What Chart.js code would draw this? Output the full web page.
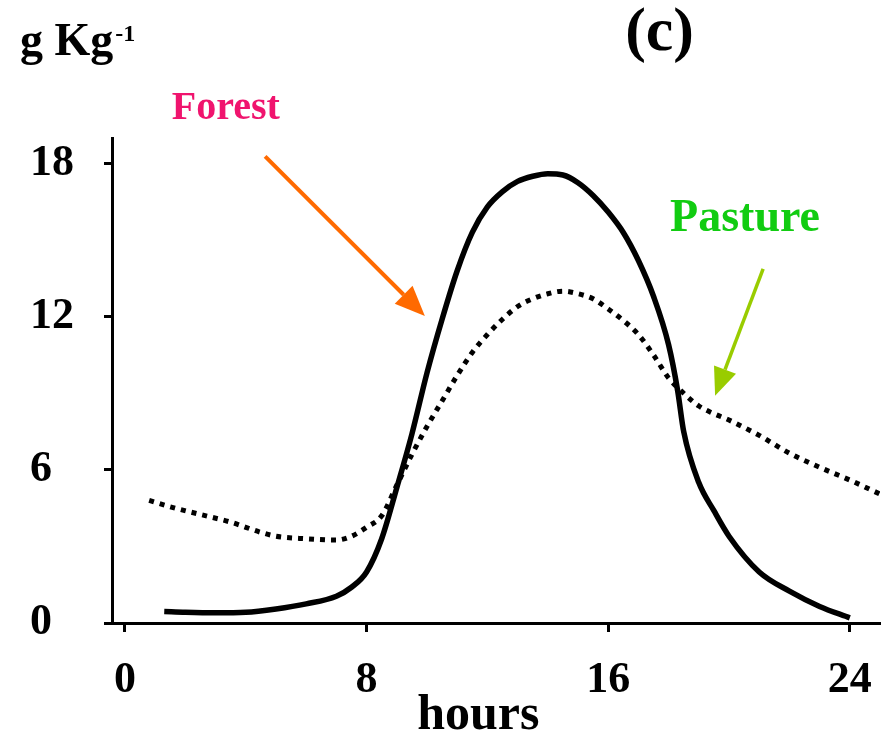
<!DOCTYPE html>
<html>
<head>
<meta charset="utf-8">
<script src="https://cdn.jsdelivr.net/npm/chart.js@4.4.1/dist/chart.umd.min.js"></script>
<style>
  html, body { margin: 0; padding: 0; background: #fff; }
  #wrap { position: relative; width: 888px; height: 739px; }
</style>
</head>
<body>
<div id="wrap"><canvas id="myChart" width="888" height="739"></canvas></div>
<script>
// hours of day
const forestHours = [1.3, 2, 3, 4, 5, 6, 7, 7.5, 8, 8.5, 9, 9.5, 10, 10.5, 11, 11.5, 12, 12.5, 13, 13.5, 14, 14.5, 15, 15.5, 16, 16.5, 17, 17.5, 18, 18.3, 18.5, 19, 19.5, 20, 21, 22, 23, 24];
const forestValues = [0.45, 0.42, 0.4, 0.42, 0.55, 0.75, 1.05, 1.4, 2.0, 3.3, 5.3, 7.4, 9.8, 11.9, 13.8, 15.3, 16.3, 16.9, 17.3, 17.5, 17.6, 17.55, 17.25, 16.75, 16.1, 15.3, 14.2, 12.8, 10.9, 9.1, 7.5, 5.5, 4.4, 3.4, 2.0, 1.25, 0.65, 0.2];
const pastureHours = [0.8, 1.5, 2.5, 3.5, 4.5, 5, 6, 7, 7.5, 8, 8.5, 9, 9.5, 10, 10.5, 11, 11.5, 12, 12.5, 13, 13.5, 14, 14.5, 15, 15.5, 16, 16.5, 17, 17.5, 18, 18.5, 19, 19.5, 20, 21, 22, 23, 24, 25];
const pastureValues = [4.8, 4.55, 4.25, 3.95, 3.55, 3.4, 3.3, 3.25, 3.4, 3.75, 4.2, 5.4, 6.6, 7.7, 8.7, 9.7, 10.6, 11.3, 11.9, 12.4, 12.7, 12.9, 13.0, 12.9, 12.7, 12.3, 11.85, 11.3, 10.5, 9.6, 9.0, 8.5, 8.2, 7.95, 7.35, 6.65, 6.1, 5.6, 5.05];
const xTicks = [0, 8, 16, 24];
const yTicks = [0, 6, 12, 18];

const serif = '"Liberation Serif", "Times New Roman", serif';

// labels and arrows (data coords)
const notes = [
  { text: 'Forest', x: 1.55, y: 19.75, color: '#f0146e', size: 40 },
  { text: 'Pasture', x: 18.05, y: 15.35, color: '#11cc11', size: 46 }
];
const arrows = [
  { from: [4.64, 18.28], to: [9.93, 12.03], color: '#ff6a00', width: 4, head: 30 },
  { from: [21.13, 13.87], to: [19.54, 8.9], color: '#99cc00', width: 3.5, head: 28 }
];

const extras = {
  id: 'extras',
  afterDraw(chart) {
    const ctx = chart.ctx, xs = chart.scales.x, ys = chart.scales.y, a = chart.chartArea;
    ctx.save();
    // unit label
    ctx.fillStyle = '#000';
    ctx.textBaseline = 'alphabetic';
    ctx.textAlign = 'left';
    ctx.font = 'bold 46px ' + serif;
    ctx.fillText('g Kg', a.left - 92, a.top - 83);
    const w = ctx.measureText('g Kg').width;
    ctx.font = 'bold 24px ' + serif;
    ctx.fillText('-1', a.left - 92 + w + 2, a.top - 97);
    // panel letter
    ctx.font = 'bold 62px ' + serif;
    ctx.textAlign = 'center';
    ctx.fillText('(c)', xs.getPixelForValue(17.7), a.top - 88);
    // x title
    ctx.font = 'bold 50px ' + serif;
    ctx.fillText('hours', xs.getPixelForValue(11.7), a.bottom + 106);
    // coloured labels
    ctx.textAlign = 'left';
    notes.forEach(n => {
      ctx.fillStyle = n.color;
      ctx.font = 'bold ' + n.size + 'px ' + serif;
      ctx.fillText(n.text, xs.getPixelForValue(n.x), ys.getPixelForValue(n.y));
    });
    // arrows
    arrows.forEach(ar => {
      const x1 = xs.getPixelForValue(ar.from[0]), y1 = ys.getPixelForValue(ar.from[1]);
      const x2 = xs.getPixelForValue(ar.to[0]), y2 = ys.getPixelForValue(ar.to[1]);
      const ang = Math.atan2(y2 - y1, x2 - x1);
      const bx = x2 - ar.head * Math.cos(ang), by = y2 - ar.head * Math.sin(ang);
      ctx.strokeStyle = ar.color;
      ctx.fillStyle = ar.color;
      ctx.lineWidth = ar.width;
      ctx.beginPath();
      ctx.moveTo(x1, y1);
      ctx.lineTo(bx, by);
      ctx.stroke();
      const hw = ar.head * 0.42;
      ctx.beginPath();
      ctx.moveTo(x2, y2);
      ctx.lineTo(bx + hw * Math.sin(ang), by - hw * Math.cos(ang));
      ctx.lineTo(bx - hw * Math.sin(ang), by + hw * Math.cos(ang));
      ctx.closePath();
      ctx.fill();
    });
    ctx.restore();
  }
};

const ctx = document.getElementById('myChart').getContext('2d');
const myChart = new Chart(ctx, {
  type: 'line',
  data: {
    datasets: [
      {
        label: 'Forest',
        data: forestHours.map((h, i) => ({ x: h, y: forestValues[i] })),
        borderColor: '#000',
        borderWidth: 5.5,
        pointRadius: 0,
        cubicInterpolationMode: 'monotone',
        fill: false
      },
      {
        label: 'Pasture',
        data: pastureHours.map((h, i) => ({ x: h, y: pastureValues[i] })),
        borderColor: '#000',
        borderWidth: 5,
        borderDash: [5, 6],
        borderCapStyle: 'butt',
        pointRadius: 0,
        cubicInterpolationMode: 'monotone',
        fill: false
      }
    ]
  },
  options: {
    responsive: false,
    animation: false,
    layout: { padding: { left: 30, right: 8, top: 138, bottom: 0 } },
    plugins: { legend: { display: false }, tooltip: { enabled: false } },
    scales: {
      x: {
        type: 'linear',
        min: -0.43,
        max: 25,
        afterBuildTicks: s => { s.ticks = xTicks.map(v => ({ value: v })); },
        afterFit: s => { s.height = 116; s.paddingLeft = 0; s.paddingRight = 0; },
        grid: { drawOnChartArea: false, drawTicks: true, tickLength: 9, tickWidth: 3, tickColor: '#000' },
        border: { display: true, color: '#000', width: 3 },
        ticks: {
          color: '#000',
          padding: 22,
          autoSkip: false,
          maxRotation: 0,
          font: { family: serif, size: 44, weight: 'bold' }
        }
      },
      y: {
        min: 0,
        max: 19,
        afterBuildTicks: s => { s.ticks = yTicks.map(v => ({ value: v })); },
        afterFit: s => { s.width = 82; },
        grid: { drawOnChartArea: false, drawTicks: true, tickLength: 8, tickWidth: 3, tickColor: '#000' },
        border: { display: true, color: '#000', width: 3 },
        ticks: {
          color: '#000',
          crossAlign: 'far',
          autoSkip: false,
          font: { family: serif, size: 44, weight: 'bold' }
        }
      }
    }
  },
  plugins: [extras]
});
</script>
</body>
</html>
